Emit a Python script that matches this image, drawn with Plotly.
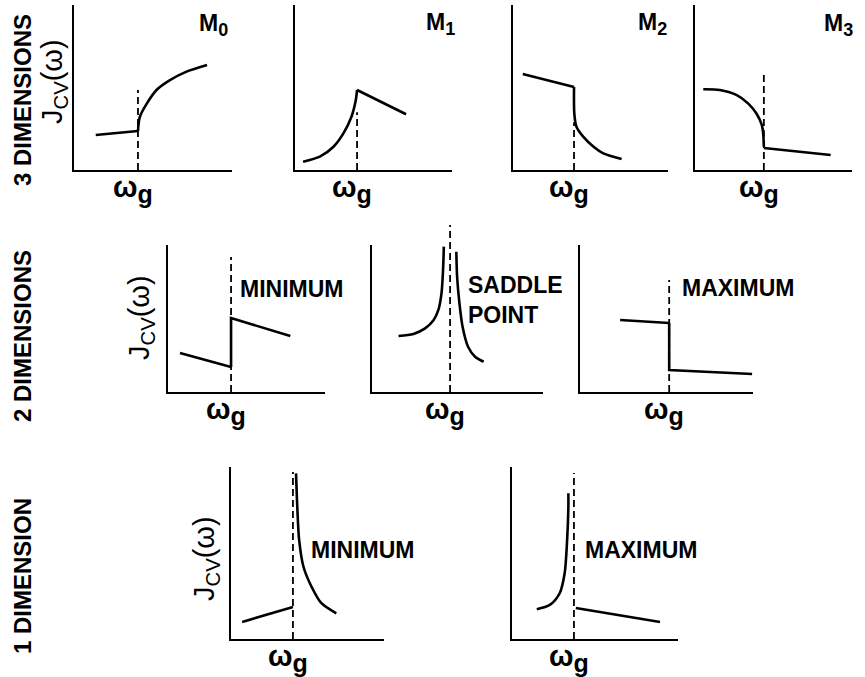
import plotly.graph_objects as go

W, H = 865, 677
FONT = "Liberation Sans, Arial, sans-serif"

# ---------------- data: omega in units of omega_g, J_cv in arbitrary units ----------------
# 3 dimensions
m0_low_w = [0.34, 1.0]
m0_low_j = [2.12, 2.36]
m0_high_w = [1.0, 1.01, 1.03, 1.14, 1.29, 1.50, 1.76, 2.08]
m0_high_j = [2.36, 2.80, 3.23, 4.04, 4.85, 5.45, 5.96, 6.36]
m0_gap_top = 4.85

m1_low_w = [0.13, 0.40, 0.62, 0.78, 0.91, 0.98, 1.0]
m1_low_j = [0.50, 0.81, 1.41, 2.22, 3.23, 4.24, 4.85]
m1_high_w = [1.0, 1.79]
m1_high_j = [4.85, 3.38]
m1_gap_top = 3.5

m2_low_w = [0.16, 1.0]
m2_low_j = [5.82, 5.03]
m2_high_w = [1.0, 1.005, 1.04, 1.15, 1.32, 1.48, 1.78]
m2_high_j = [5.03, 3.40, 2.62, 2.02, 1.41, 1.01, 0.67]
m2_gap_top = 2.9

m3_low_w = [0.12, 0.36, 0.60, 0.77, 0.89, 0.97, 0.99, 1.0]
m3_low_j = [4.89, 4.85, 4.55, 4.04, 3.44, 2.73, 2.22, 1.41]
m3_high_w = [1.0, 1.97]
m3_high_j = [1.33, 0.91]
m3_gap_top = 5.82

# 2 dimensions
min2_low_w = [0.19, 1.0]
min2_low_j = [2.65, 1.70]
min2_high_w = [1.0, 1.0, 1.94]
min2_high_j = [1.70, 5.03, 3.81]
min2_gap_top = 9.18

sad2_low_w = [0.34, 0.53, 0.68, 0.79, 0.85, 0.89, 0.91, 0.92]
sad2_low_j = [3.81, 3.95, 4.33, 4.90, 5.58, 6.71, 8.30, 9.89]
sad2_high_w = [1.08, 1.09, 1.12, 1.16, 1.23, 1.32, 1.43]
sad2_high_j = [9.54, 7.84, 6.03, 4.44, 3.08, 2.40, 2.06]
sad2_gap_top = 11.36

max2_low_w = [0.45, 1.0]
max2_low_j = [4.90, 4.69]
max2_high_w = [1.0, 1.0, 1.93]
max2_high_j = [4.69, 1.50, 1.22]
max2_gap_top = 7.62

# 1 dimension
min1_low_w = [0.18, 1.0]
min1_low_j = [0.99, 1.86]
min1_high_w = [1.05, 1.07, 1.10, 1.17, 1.30, 1.46, 1.70]
min1_high_j = [9.63, 7.69, 5.76, 4.20, 3.04, 2.08, 1.49]
min1_gap_top = 9.71

max1_low_w = [0.40, 0.61, 0.77, 0.85, 0.89, 0.91, 0.91]
max1_low_j = [1.73, 1.98, 2.66, 3.82, 5.76, 7.69, 8.47]
max1_high_w = [1.03, 2.39]
max1_high_j = [1.80, 0.99]
max1_gap_top = 9.65

row_labels = ["3 DIMENSIONS", "2 DIMENSIONS", "1 DIMENSION"]
omega_g = 1.0
tick_label = "<b>ω<sub><span style='font-size:25px'>g</span></sub></b>"
j_label = "J<sub>CV</sub>(ω)"

# ---------------- layout of panels (pixel boxes: x0, x1, y_top, y_bottom) ----------------
# each curve: (omega, J, smooth?)
panels = [
    dict(box=(74, 232, 5, 170), xmax=2.47,
         curves=[(m0_low_w, m0_low_j, False), (m0_high_w, m0_high_j, True)], gap=m0_gap_top),
    dict(box=(295, 452, 5, 170), xmax=2.53,
         curves=[(m1_low_w, m1_low_j, True), (m1_high_w, m1_high_j, False)], gap=m1_gap_top),
    dict(box=(513, 668, 5, 170), xmax=2.54,
         curves=[(m2_low_w, m2_low_j, False), (m2_high_w, m2_high_j, True)], gap=m2_gap_top),
    dict(box=(695, 852, 5, 170), xmax=2.28,
         curves=[(m3_low_w, m3_low_j, True), (m3_high_w, m3_high_j, False)], gap=m3_gap_top),
    dict(box=(168, 325, 245, 392), xmax=2.49,
         curves=[(min2_low_w, min2_low_j, False), (min2_high_w, min2_high_j, False)], gap=min2_gap_top),
    dict(box=(372, 543, 245, 392), xmax=2.19,
         curves=[(sad2_low_w, sad2_low_j, True), (sad2_high_w, sad2_high_j, True)], gap=sad2_gap_top,
         tall_top=225),
    dict(box=(580, 753, 245, 392), xmax=1.94,
         curves=[(max2_low_w, max2_low_j, False), (max2_high_w, max2_high_j, False)], gap=max2_gap_top),
    dict(box=(231, 384, 467, 639), xmax=2.47,
         curves=[(min1_low_w, min1_low_j, False), (min1_high_w, min1_high_j, True)], gap=min1_gap_top),
    dict(box=(512, 678, 467, 639), xmax=2.68,
         curves=[(max1_low_w, max1_low_j, True), (max1_high_w, max1_high_j, False)], gap=max1_gap_top),
]

fig = go.Figure()
layout = dict(
    width=W, height=H, margin=dict(l=0, r=0, t=0, b=0),
    paper_bgcolor="white", plot_bgcolor="rgba(0,0,0,0)",
    showlegend=False, font=dict(family=FONT, color="black"),
)

DASH = dict(color="black", width=1.8, dash="7px,4px")
ann = []

n_ax = 0
for p in panels:
    n_ax += 1
    k = "" if n_ax == 1 else str(n_ax)
    x0, x1, yt, yb = p["box"]
    layout["xaxis" + k] = dict(
        domain=[x0 / W, x1 / W], range=[0, p["xmax"]], anchor="y" + k,
        showline=True, linecolor="black", linewidth=2, showgrid=False, zeroline=False,
        ticks="", showticklabels=False, fixedrange=True,
    )
    layout["yaxis" + k] = dict(
        domain=[1 - yb / H, 1 - yt / H], range=[0, 10], anchor="x" + k,
        showline=True, linecolor="black", linewidth=2, showgrid=False, zeroline=False,
        ticks="", showticklabels=False, fixedrange=True,
    )
    # omega_g label tied to the x axis position of the gap
    ann.append(dict(text=tick_label, x=omega_g, y=0, xref="x" + k, yref="y" + k + " domain",
                    xanchor="center", yanchor="middle", xshift=-5, yshift=-19,
                    font=dict(size=29, family=FONT), showarrow=False))
    for w, j, smooth in p["curves"]:
        line = dict(color="black", width=2.6)
        if smooth:
            line.update(shape="spline", smoothing=0.8)
        fig.add_trace(go.Scatter(x=w, y=j, mode="lines", line=line, xaxis="x" + k, yaxis="y" + k,
                                 hoverinfo="skip"))
    if "tall_top" in p:
        # invisible taller axes so the dashed line may rise above the drawn axis
        n_ax += 1
        k2 = str(n_ax)
        tt = p["tall_top"]
        layout["xaxis" + k2] = dict(domain=[x0 / W, x1 / W], range=[0, p["xmax"]], anchor="y" + k2,
                                    visible=False, fixedrange=True)
        layout["yaxis" + k2] = dict(domain=[1 - yb / H, 1 - tt / H],
                                    range=[0, 10 * (yb - tt) / (yb - yt)], anchor="x" + k2,
                                    visible=False, fixedrange=True)
        fig.add_trace(go.Scatter(x=[omega_g, omega_g], y=[0, p["gap"]], mode="lines", line=DASH,
                                 xaxis="x" + k2, yaxis="y" + k2, hoverinfo="skip"))
    else:
        fig.add_trace(go.Scatter(x=[omega_g, omega_g], y=[0, p["gap"]], mode="lines", line=DASH,
                                 xaxis="x" + k, yaxis="y" + k, hoverinfo="skip"))


def px(x, y):
    return x / W, 1 - y / H


paper_ann = []
# row labels
for text, yc in zip(row_labels, [100, 336, 576]):
    ax_, ay_ = px(22, yc)
    paper_ann.append(dict(text="<b>" + text + "</b>", x=ax_, y=ay_, textangle=-90,
                          font=dict(size=24, family=FONT)))
# J labels
for xc, yc in [(54, 82), (141, 318), (206, 559)]:
    ax_, ay_ = px(xc, yc)
    paper_ann.append(dict(text=j_label, x=ax_, y=ay_, textangle=-90, font=dict(size=29, family=FONT)))
# M labels
for i, (xc, yc) in enumerate([(213, 25), (440, 24), (652, 24), (838, 25)]):
    ax_, ay_ = px(xc, yc)
    paper_ann.append(dict(text=f"<b>M<sub><span style='font-size:18px'>{i}</span></sub></b>",
                          x=ax_, y=ay_, font=dict(size=23, family=FONT)))
# critical point names
for text, xl, yc in [("MINIMUM", 238, 289), ("SADDLE<br>POINT", 466, 300), ("MAXIMUM", 680, 288),
                     ("MINIMUM", 309, 550), ("MAXIMUM", 583, 550)]:
    ax_, ay_ = px(xl, yc)
    paper_ann.append(dict(text="<b>" + text + "</b>", x=ax_, y=ay_, xanchor="left", align="left",
                          font=dict(size=23, family=FONT)))

for a in paper_ann:
    a.update(xref="paper", yref="paper", showarrow=False)
    a.setdefault("xanchor", "center")
    a.setdefault("yanchor", "middle")

layout["annotations"] = ann + paper_ann
fig.update_layout(**layout)
fig.write_html("out.html")
